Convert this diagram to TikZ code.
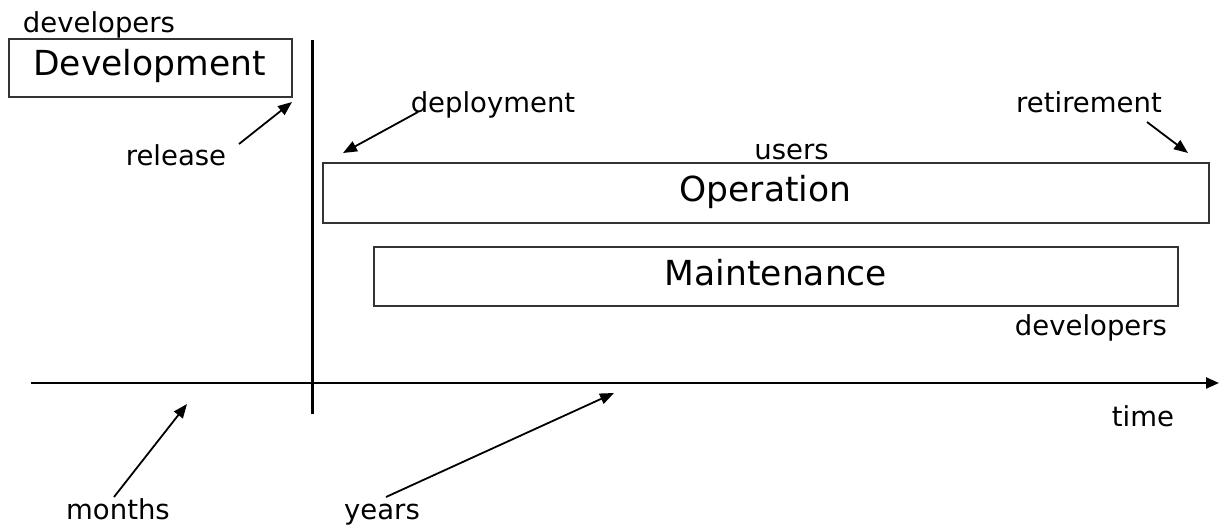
\documentclass[tikz,border=0pt]{standalone}
\usepackage{fontspec}
\setmainfont{DejaVu Sans}
\usetikzlibrary{arrows.meta}
\begin{document}
\begin{tikzpicture}[x=1pt,y=-1pt,
  small/.style={inner sep=0pt,anchor=base,font=\fontsize{27.5}{30}\selectfont},
  big/.style={inner sep=0pt,anchor=base,font=\fontsize{34.5}{40}\selectfont},
  phase/.style={draw=black!80,line width=1.8pt,inner sep=0pt},
  pointer/.style={line width=1.8pt,-{Triangle[length=14pt,width=11pt]}},
  axisline/.style={line width=2.4pt}]
\useasboundingbox (0,0) rectangle (1219,526);
% boxes
\node[phase,minimum width=283pt,minimum height=58pt] (dev) at (150.5,68) {};
\node[phase,minimum width=886pt,minimum height=60pt] (op) at (766,193) {};
\node[phase,minimum width=804pt,minimum height=59pt] (maint) at (776,276.5) {};
\node[big] (devt) at (149.5,76) {Development};
\node[big] (opt) at (765.5,202) {Operation};
\node[big] (maintt) at (776,286) {Maintenance};
% labels
\node[small] (devs1) at (99,33) {developers};
\node[small] (rel) at (176,166) {release};
\node[small] (dep) at (493,113) {deployment};
\node[small] (ret) at (1089,113) {retirement};
\node[small] (users) at (791.5,160) {users};
\node[small] (devs2) at (1091,336) {developers};
\node[small] (time) at (1143,427) {time};
\node[small] (months) at (118,520) {months};
\node[small] (years) at (382,520) {years};
% axes
\coordinate (vtop) at (312.5,40);
\coordinate (vbot) at (312.5,414);
\coordinate (aleft) at (31,383);
\coordinate (aright) at (1219,383);
\draw[axisline] (vtop) -- (vbot);
\draw[axisline,-{Triangle[length=13pt,width=11pt]}] (aleft) -- (aright);
% pointers
\coordinate (relS) at (239,144);
\coordinate (relT) at (292,102);
\coordinate (depS) at (418,112);
\coordinate (depT) at (343,153);
\coordinate (retS) at (1147,122);
\coordinate (retT) at (1188,153);
\coordinate (monS) at (114,497);
\coordinate (monT) at (187,404);
\coordinate (yrsS) at (386,497);
\coordinate (yrsT) at (614,393);
\draw[pointer] (relS) -- (relT);
\draw[pointer] (depS) -- (depT);
\draw[pointer] (retS) -- (retT);
\draw[pointer] (monS) -- (monT);
\draw[pointer] (yrsS) -- (yrsT);
\end{tikzpicture}
\end{document}
